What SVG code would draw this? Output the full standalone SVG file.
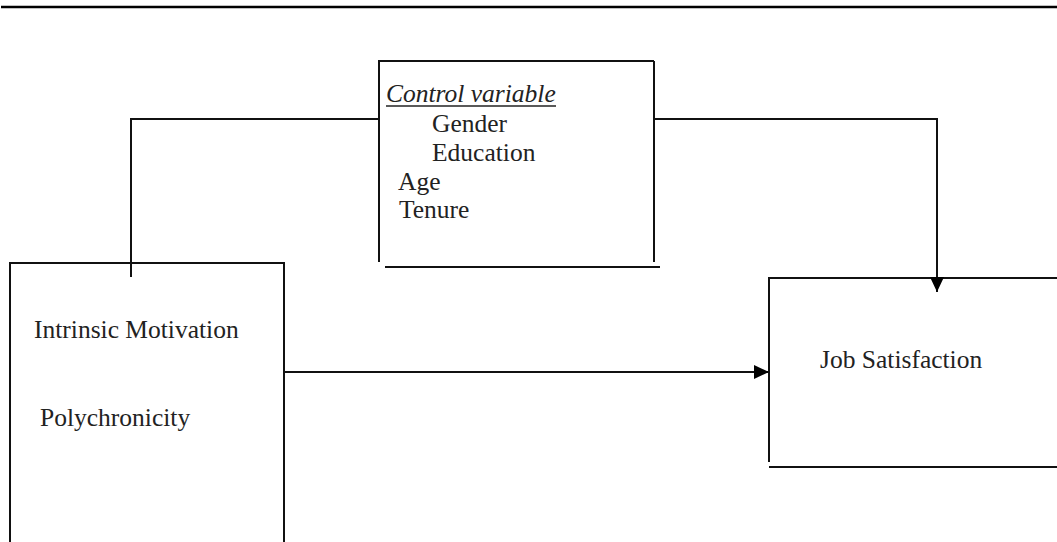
<svg xmlns="http://www.w3.org/2000/svg" width="1057" height="542" viewBox="0 0 1057 542">
<style>
.ln{stroke:#111;stroke-width:2;fill:none}
.t{font-family:"Liberation Serif","Times New Roman",serif;font-size:25.5px;fill:#222}
.it{font-style:italic}
</style>
<defs>
<marker id="ah" markerUnits="userSpaceOnUse" markerWidth="16" markerHeight="16" viewBox="0 0 16 16" refX="15" refY="8" orient="auto">
<path d="M0,1 L15,8 L0,15 Z" fill="#000"/>
</marker>
</defs>
<rect width="1057" height="542" fill="#fff"/>
<line x1="1" y1="7" x2="1057" y2="7" stroke="#000" stroke-width="2.5"/>
<g id="control">
<line class="ln" x1="378" y1="61" x2="654" y2="61"/>
<line class="ln" x1="379" y1="61" x2="379" y2="262"/>
<line class="ln" x1="654" y1="61" x2="654" y2="262"/>
<line class="ln" x1="385" y1="267" x2="660" y2="267"/>
<text class="t it" x="386" y="102">Control variable</text>
<line x1="386" y1="106" x2="556" y2="106" stroke="#222" stroke-width="1.5"/>
<text class="t" x="432" y="132">Gender</text>
<text class="t" x="432" y="161">Education</text>
<text class="t" x="398" y="190">Age</text>
<text class="t" x="399" y="218">Tenure</text>
</g>
<g id="predictors">
<path class="ln" d="M10,542 V263 H284 V542"/>
<text class="t" x="34" y="338">Intrinsic Motivation</text>
<text class="t" x="40" y="426">Polychronicity</text>
</g>
<g id="outcome">
<path class="ln" d="M1057,278 H769 V462"/>
<line class="ln" x1="769" y1="467" x2="1057" y2="467"/>
<text class="t" x="820" y="368">Job Satisfaction</text>
</g>
<g id="connectors">
<path class="ln" d="M131,277 V119 H379"/>
<path class="ln" d="M654,119 H937 V292" marker-end="url(#ah)"/>
<path class="ln" d="M284,372 H769" marker-end="url(#ah)"/>
</g>
</svg>
